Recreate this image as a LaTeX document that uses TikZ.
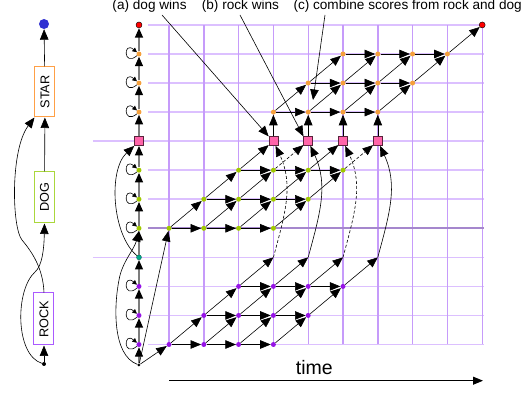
\documentclass[tikz,border=0pt]{standalone}
\usepackage{fontspec}
\setmainfont{Liberation Sans}
\usepackage{graphicx}
\usetikzlibrary{arrows.meta}
\definecolor{gridv}{RGB}{198,155,250}
\definecolor{gridh}{RGB}{220,192,255}
\definecolor{gridd}{RGB}{165,135,205}
\definecolor{dorange}{RGB}{245,160,60}
\definecolor{dgreen}{RGB}{160,200,0}
\definecolor{dpurple}{RGB}{150,20,230}
\definecolor{dteal}{RGB}{0,170,140}
\definecolor{dpink}{RGB}{255,100,170}
\definecolor{dblue}{RGB}{50,50,210}
\definecolor{bstar}{RGB}{255,160,70}
\definecolor{bdog}{RGB}{170,215,60}
\definecolor{brock}{RGB}{170,90,255}
\definecolor{chaingray}{RGB}{125,125,125}
\begin{document}
\begin{tikzpicture}[x=34.8pt,y=29.05pt,
  >={Triangle[length=10.5pt,width=8.5pt]},
  arr/.style={->, line width=0.6pt},
  dasharr/.style={arr, dash pattern=on 3pt off 2pt},
  chainarr/.style={draw=chaingray, line width=1.3pt, -{Triangle[length=9.5pt,width=8pt,color=black]}},
  selfloop/.style={line width=0.6pt, -{Triangle[length=4.5pt,width=4.5pt]}},
  smalldot/.style={circle, inner sep=0pt, minimum size=5pt},
  pdot/.style={smalldot, fill=dpurple},
  gdot/.style={smalldot, fill=dgreen},
  odot/.style={smalldot, fill=dorange},
  tdot/.style={smalldot, fill=dteal, draw=black!50!dteal, line width=0.3pt},
  reddot/.style={smalldot, fill=red, draw=black, line width=0.4pt, minimum size=6pt},
  pinksq/.style={rectangle, draw=black!65!dpink, fill=dpink, line width=0.5pt, inner sep=0pt, minimum size=9pt},
  hbox/.style={rectangle, line width=1pt, fill=white, inner sep=0pt, minimum width=20pt, font=\fontsize{12.7}{14}\selectfont},
  lbl/.style={font=\fontsize{13.6}{16}\selectfont, inner sep=0pt, anchor=base west}
]
\useasboundingbox (-169pt,-48.5pt) rectangle (361pt,344.5pt);

% grid
\foreach \rr in {0,1,2,5,6,8,9,10,11}
  \draw[gridh, line width=1.6pt] (-0.6034,\rr) -- (9.05,\rr);
\foreach \rr in {3,7}
  \draw[gridh, line width=1.6pt] (-2.184,\rr) -- (9.05,\rr);
\foreach \kk in {0,...,9}
  \draw[gridv, line width=1.4pt] (\kk,0) -- (\kk,11);
\draw[gridd, line width=1.6pt] (-0.6034,4) -- (9.05,4);

% lattice nodes
\foreach \rr in {0,1,2} \foreach \dd in {0,...,3} {
  \pgfmathtruncatemacro\kk{\rr+\dd}
  \node[pdot] (P-\kk-\rr) at (\kk,\rr) {};}
\foreach \kk in {3,...,6} \coordinate (R-\kk) at (\kk,3);
\foreach \rr in {4,5,6} \foreach \dd in {0,...,3} {
  \pgfmathtruncatemacro\kk{\rr-4+\dd}
  \node[gdot] (G-\kk-\rr) at (\kk,\rr) {};}
\foreach \kk in {3,...,6} \node[pinksq] (Q-\kk) at (\kk,7) {};
\foreach \rr in {8,9,10} \foreach \dd in {0,...,3} {
  \pgfmathtruncatemacro\kk{\rr-5+\dd}
  \node[odot] (O-\kk-\rr) at (\kk,\rr) {};}
\node[reddot] (E) at (9,11) {};

% left lattice column
\node[smalldot, fill=black, minimum size=3pt] (LS) at (-0.8621,-0.7057) {};
\foreach \rr in {0,1,2} \node[pdot] (L-\rr) at (-0.8621,\rr) {};
\node[tdot] (L-3) at (-0.8621,3) {};
\foreach \rr in {4,5,6} \node[gdot] (L-\rr) at (-0.8621,\rr) {};
\node[pinksq] (L-7) at (-0.8621,7) {};
\foreach \rr in {8,9,10} \node[odot] (L-\rr) at (-0.8621,\rr) {};
\node[reddot] (L-11) at (-0.8621,11) {};

\foreach \aa/\bb in {LS/L-0,L-0/L-1,L-1/L-2,L-2/L-3,L-3/L-4,L-4/L-5,L-5/L-6,L-6/L-7,L-7/L-8,L-8/L-9,L-9/L-10,L-10/L-11}
  \draw[chainarr] (\aa) -- (\bb);
\foreach \rr in {0,1,2,4,5,6,8,9,10}
  \draw[selfloop] (L-\rr.220) to[out=220,in=140,min distance=18pt] (L-\rr.140);
\draw[arr] (LS) .. controls (-57pt,-10.5pt) and (-55pt,39.5pt) .. (-50pt,64.5pt)
  .. controls (-47pt,82.5pt) and (-35pt,94.5pt) .. (L-4.south);
\draw[arr] (L-3) .. controls (-57pt,109.5pt) and (-61pt,174.5pt) .. (L-7.south west);

% start edges
\draw[arr] (LS) -- (P-0-0);
\draw[arr] (LS) -- (G-0-4);

% purple edges
\foreach \rr in {0,1,2} \foreach \dd in {0,1,2} {
  \pgfmathtruncatemacro\kk{\rr+\dd}\pgfmathtruncatemacro\nn{\kk+1}
  \draw[arr] (P-\kk-\rr) -- (P-\nn-\rr);}
\foreach \rr in {0,1} \foreach \dd in {0,...,3} {
  \pgfmathtruncatemacro\kk{\rr+\dd}\pgfmathtruncatemacro\nn{\kk+1}\pgfmathtruncatemacro\ss{\rr+1}
  \draw[arr] (P-\kk-\rr) -- (P-\nn-\ss);}
\foreach \kk in {2,...,5} {
  \pgfmathtruncatemacro\nn{\kk+1}
  \draw[arr] (P-\kk-2) -- (R-\nn);}

% green edges
\foreach \rr in {4,5,6} \foreach \dd in {0,1,2} {
  \pgfmathtruncatemacro\kk{\rr-4+\dd}\pgfmathtruncatemacro\nn{\kk+1}
  \draw[arr] (G-\kk-\rr) -- (G-\nn-\rr);}
\foreach \rr in {4,5} \foreach \dd in {0,...,3} {
  \pgfmathtruncatemacro\kk{\rr-4+\dd}\pgfmathtruncatemacro\nn{\kk+1}\pgfmathtruncatemacro\ss{\rr+1}
  \draw[arr] (G-\kk-\rr) -- (G-\nn-\ss);}
\draw[arr] (G-2-6) -- (Q-3);
\draw[dasharr] (G-3-6) -- (Q-4);
\draw[arr] (G-4-6) -- (Q-5);
\draw[dasharr] (G-5-6) -- (Q-6);

% rock ends to pink squares
\draw[dasharr] (R-3) to[out=75,in=-65] (Q-3);
\draw[arr] (R-4) to[out=75,in=-65] (Q-4);
\draw[dasharr] (R-5) to[out=75,in=-65] (Q-5);
\draw[arr] (R-6) to[out=75,in=-65] (Q-6);

% pink to orange
\foreach \kk in {3,...,6} \draw[arr] (Q-\kk) -- (O-\kk-8);

% orange edges
\foreach \rr in {8,9,10} \foreach \dd in {0,1,2} {
  \pgfmathtruncatemacro\kk{\rr-5+\dd}\pgfmathtruncatemacro\nn{\kk+1}
  \draw[arr] (O-\kk-\rr) -- (O-\nn-\rr);}
\foreach \rr in {8,9} \foreach \dd in {0,...,3} {
  \pgfmathtruncatemacro\kk{\rr-5+\dd}\pgfmathtruncatemacro\nn{\kk+1}\pgfmathtruncatemacro\ss{\rr+1}
  \draw[arr] (O-\kk-\rr) -- (O-\nn-\ss);}
\draw[arr] (O-8-10) -- (E);

% left HMM
\node[smalldot, fill=black, minimum size=4pt] (hS) at (-125pt,-19.5pt) {};
\node[hbox, draw=brock, minimum height=52pt] (ROCK) at (-125pt,25.5pt) {\rotatebox{90}{ROCK}};
\node[hbox, draw=bdog, minimum height=51pt] (DOG) at (-124.5pt,147pt) {\rotatebox{90}{DOG}};
\node[hbox, draw=bstar, minimum height=50pt] (STAR) at (-124pt,252.5pt) {\rotatebox{90}{STAR}};
\node[smalldot, fill=dblue, minimum size=10pt] (hE) at (-125pt,320.5pt) {};
\draw[arr] (hS) -- (ROCK);
\draw[arr] (DOG) -- (STAR);
\draw[arr] (STAR) -- (hE);
\draw[arr] (hS) .. controls (-154pt,-10.5pt) and (-154pt,54.5pt) .. (-134pt,72.5pt)
  .. controls (-127pt,78.5pt) and (-125pt,94.5pt) .. (DOG.south);
\draw[arr] (ROCK.north) .. controls (-126pt,76.5pt) and (-137pt,92.5pt) .. (-147pt,104.5pt)
  .. controls (-157pt,116.5pt) and (-159pt,194.5pt) .. (STAR.south west);

% annotations
\node[lbl] (la) at (-56.7pt,335pt) {(a) dog wins};
\node[lbl] (lb) at (32.7pt,335pt) {(b) rock wins};
\node[lbl] (lc) at (124.3pt,335pt) {(c) combine scores from rock and dog};
\coordinate (aS) at (-7pt,329.5pt);
\coordinate (bS) at (71pt,329.5pt);
\coordinate (cS) at (156pt,329.5pt);
\coordinate (cT) at (144pt,244.5pt);
\draw[arr] (aS) -- (Q-3.north west);
\draw[arr] (bS) -- (Q-4.north west);
\draw[arr] (cS) -- (cT);

% time
\node[font=\fontsize{19.5}{22}\selectfont, anchor=base west, inner sep=0pt] (tl) at (126.7pt,-29.8pt) {time};
\coordinate (tA) at (0pt,-36.2pt);
\coordinate (tB) at (314pt,-36.2pt);
\draw[line width=0.9pt, -{Triangle[length=10pt,width=8pt]}] (tA) -- (tB);
\end{tikzpicture}
\end{document}
